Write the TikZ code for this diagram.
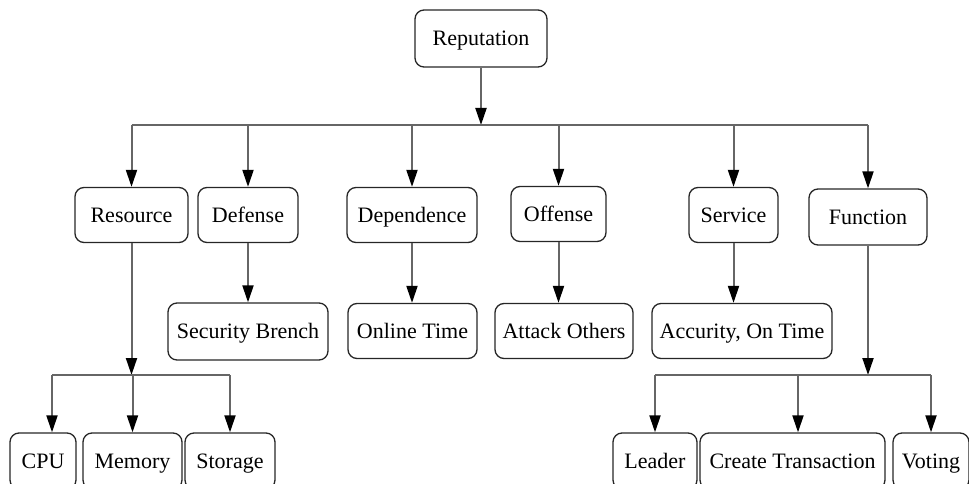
\documentclass[tikz,border=0pt]{standalone}
\usepackage{fontspec}
\setmainfont{Liberation Serif}
\usetikzlibrary{arrows.meta}

\begin{document}
\begin{tikzpicture}[x=1pt,y=-1pt,
  box/.style={draw=black!85, line width=1.3pt, rounded corners=9pt, minimum height=55pt, text height=14.6pt, text depth=0pt, font=\fontsize{22}{26}\selectfont},
  wire/.style={draw=black!60, line width=2pt},
  arr/.style={wire, -{Triangle[length=17pt,width=11pt,color=black]}}]
\tikzstyle{every node}+=[inner sep=0pt]
\useasboundingbox (0,0) rectangle (969,484);

\node[box, minimum width=132pt, minimum height=57pt] (rep) at (481,38.5) {Reputation};
\coordinate (top) at (481,125);

\node[box, minimum width=113pt] (resource) at (131.5,215) {Resource};
\node[box, minimum width=100pt] (defense) at (248,215) {Defense};
\node[box, minimum width=130pt] (dependence) at (412,215) {Dependence};
\node[box, minimum width=95pt] (offense) at (558.5,214) {Offense};
\node[box, minimum width=89pt] (service) at (733.5,215) {Service};
\node[box, minimum width=118pt, minimum height=56pt] (function) at (868,217) {Function};

\node[box, minimum width=160pt, minimum height=57pt] (security) at (248,331.5) {Security Brench};
\node[box, minimum width=129pt] (online) at (412.5,331) {Online Time};
\node[box, minimum width=138pt] (attack) at (564,331) {Attack Others};
\node[box, minimum width=180pt] (accurity) at (742,331) {Accurity, On Time};

\node[box, minimum width=66pt, minimum height=56pt] (cpu) at (43,461) {CPU};
\node[box, minimum width=99pt, minimum height=56pt] (memory) at (132.5,461) {Memory};
\node[box, minimum width=90pt, minimum height=56pt] (storage) at (230,461) {Storage};
\node[box, minimum width=84pt, minimum height=56pt] (leader) at (655,461) {Leader};
\node[box, minimum width=185pt, minimum height=56pt] (create) at (792.5,461) {Create Transaction};
\node[box, minimum width=76pt, minimum height=56pt] (voting) at (931,461) {Voting};

\coordinate (rjoin) at (resource |- 0,375);
\coordinate (fjoin) at (function |- 0,375);

\draw [arr] (rep) -- (top);
\draw [wire] (resource |- top) -- (function |- top);
\foreach \n in {resource,defense,dependence,offense,service,function}
  \draw [arr] (\n |- top) -- (\n.north);

\foreach \p/\c in {defense/security,dependence/online,offense/attack,service/accurity}
  \draw [arr] (\p) -- (\p |- \c.north);

\draw [arr] (resource) -- (rjoin);
\draw [wire] ([xshift=9pt]cpu.north |- rjoin) -- (storage.north |- rjoin);
\draw [arr] ([xshift=9pt]cpu.north |- rjoin) -- ([xshift=9pt]cpu.north);
\draw [arr] (memory.north |- rjoin) -- (memory.north);
\draw [arr] (storage.north |- rjoin) -- (storage.north);

\draw [arr] (function) -- (fjoin);
\draw [wire] (leader.north |- fjoin) -- (voting.north |- fjoin);
\draw [arr] (leader.north |- fjoin) -- (leader.north);
\draw [arr] ([xshift=5.5pt]create.north |- fjoin) -- ([xshift=5.5pt]create.north);
\draw [arr] (voting.north |- fjoin) -- (voting.north);
\end{tikzpicture}
\end{document}
